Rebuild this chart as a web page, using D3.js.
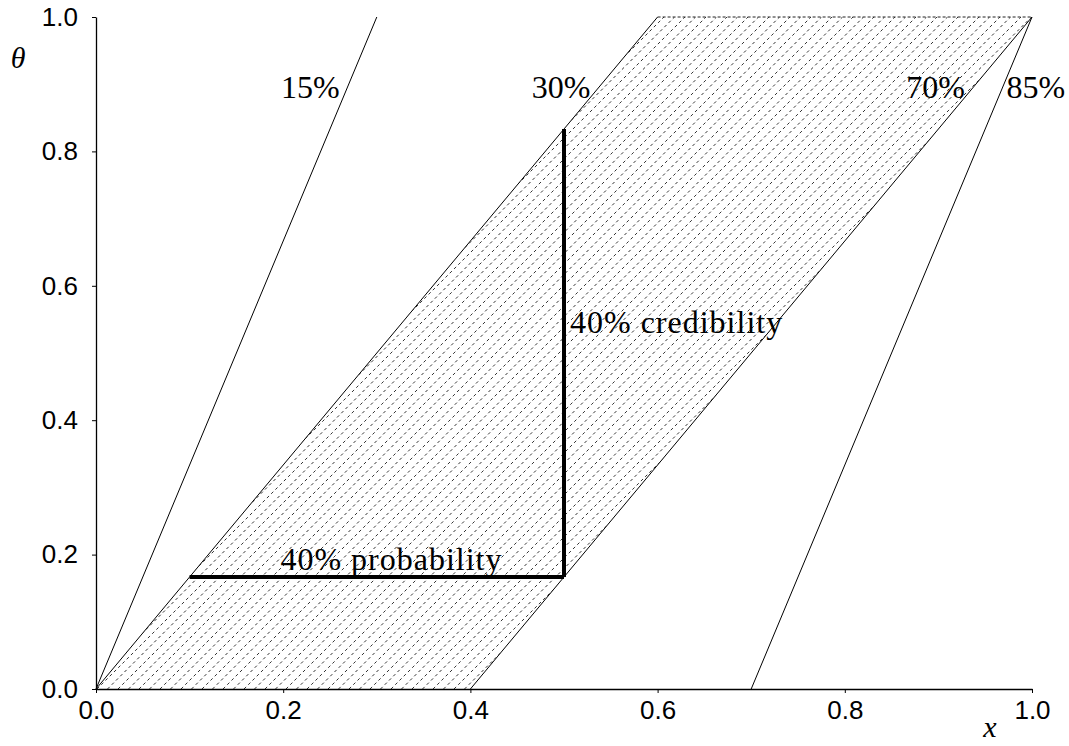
<!DOCTYPE html>
<html><head><meta charset="utf-8">
<script src="https://cdn.jsdelivr.net/npm/d3@7"></script>
<style>body{margin:0;background:#fff}</style>
</head><body>
<svg id="c" width="1069" height="746"></svg>
<script>
// Quantile lines: [x at theta=0, x at theta=1]
const quantileLabels = ["15%", "30%", "70%", "85%"];
const quantileX0 = [0.0, 0.0, 0.4, 0.7];
const quantileX1 = [0.3, 0.6, 1.0, 1.0];
const labelTheta = [0.9, 0.9, 0.9, 0.9];
const labelX = [0.229, 0.497, 0.897, 1.004];
// shaded band between 30% and 70% lines
const bandX = [0.0, 0.4, 1.0, 0.6];
const bandY = [0.0, 0.0, 1.0, 1.0];
// thick segments
const probX = [0.1, 0.5];
const probY = [1/6, 1/6];
const credX = [0.5, 0.5];
const credY = [1/6, 5/6];
const ticks = [0.0, 0.2, 0.4, 0.6, 0.8, 1.0];

const svg = d3.select("#c");
const x = d3.scaleLinear().domain([0,1]).range([96,1032]);
const y = d3.scaleLinear().domain([0,1]).range([689,17]);

// clip for band
svg.append("clipPath").attr("id","band").append("polygon")
  .attr("points", bandX.map((d,i)=>[x(d),y(bandY[i])].join(",")).join(" "));

// hatch lines at 45 degrees (device space), dashed
const hatchSep = 10.5; // px horizontal spacing
const h = y(0) - y(1);
const hatch = d3.range(x(0) - h - 20, x(1) + 20, hatchSep);
svg.append("g").attr("clip-path","url(#band)")
  .selectAll("line").data(hatch).join("line")
  .attr("x1", d=>d).attr("y1", y(0))
  .attr("x2", d=>d + h).attr("y2", y(1))
  .attr("stroke","#333").attr("stroke-width",1)
  .attr("stroke-dasharray","3,3");

// top dashed edge of band
svg.append("line").attr("x1",x(0.6)).attr("x2",x(1)).attr("y1",y(1)).attr("y2",y(1))
  .attr("stroke","#222").attr("stroke-width",1).attr("stroke-dasharray","3,2");

// quantile lines
svg.append("g").selectAll("line").data(quantileX0).join("line")
  .attr("x1",(d)=>x(d)).attr("y1",y(0))
  .attr("x2",(d,i)=>x(quantileX1[i])).attr("y2",y(1))
  .attr("stroke","#000").attr("stroke-width",1);

// axes
const xAxis = d3.axisBottom(x).tickValues(ticks).tickFormat(d3.format(".1f")).tickSize(4).tickSizeOuter(0).tickPadding(8);
const yAxis = d3.axisLeft(y).tickValues(ticks).tickFormat(d3.format(".1f")).tickSize(4).tickSizeOuter(0).tickPadding(14);
const gx = svg.append("g").attr("transform",`translate(0,${y(0)})`).call(xAxis);
const gy = svg.append("g").attr("transform",`translate(${x(0)},0)`).call(yAxis);
[gx,gy].forEach(g=>{
  g.attr("font-size",null).attr("font-family",null);
  g.selectAll("path").attr("stroke","#000").attr("stroke-width",1.3);
  g.selectAll("line").attr("stroke","#000").attr("stroke-width",1);
  g.selectAll("text").style("font-family","'Liberation Sans', Arial, sans-serif")
    .style("font-size","26px").attr("fill","#000");
});

// thick segments
const line = d3.line().x(d=>x(d[0])).y(d=>y(d[1]));
svg.append("path").attr("d", line(probX.map((d,i)=>[d,probY[i]])))
  .attr("stroke","#000").attr("stroke-width",4).attr("fill","none");
svg.append("path").attr("d", line(credX.map((d,i)=>[d,credY[i]])))
  .attr("stroke","#000").attr("stroke-width",4).attr("fill","none");

const serif = "'Liberation Serif', 'Times New Roman', serif";
// quantile labels
svg.append("g").selectAll("text").data(quantileLabels).join("text")
  .attr("x",(d,i)=>x(labelX[i])).attr("y",(d,i)=>y(labelTheta[i])+14)
  .attr("text-anchor","middle").style("font-family",serif)
  .style("font-size","32px").text(d=>d);

svg.append("text").attr("x", x(0.5)+6).attr("y", y(0.53))
  .style("font-family",serif).style("font-size","32px").style("letter-spacing","1px")
  .text("40% credibility");
svg.append("text").attr("x", x(0.197)).attr("y", y(1/6)-7)
  .style("font-family",serif).style("font-size","32px").style("letter-spacing","1px")
  .text("40% probability");

svg.append("text").attr("x",18).attr("y",68).attr("text-anchor","middle")
  .style("font-family",serif).style("font-style","italic")
  .style("font-size","30px").text("θ");
svg.append("text").attr("x",990).attr("y",737).attr("text-anchor","middle")
  .style("font-family",serif).style("font-style","italic")
  .style("font-size","30px").text("x");
</script>
</body></html>
